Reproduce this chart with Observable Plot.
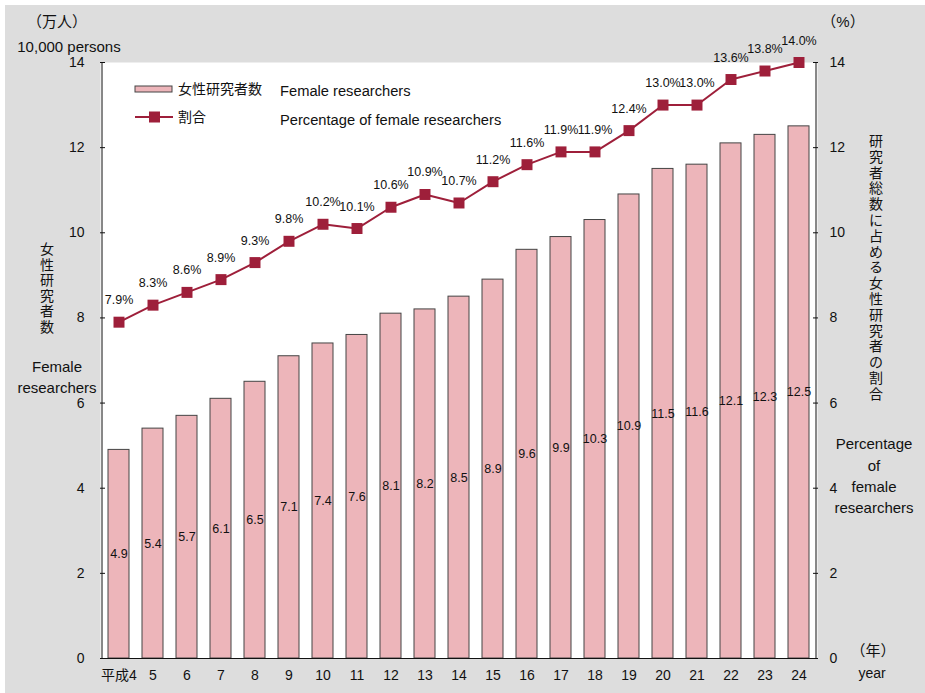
<!DOCTYPE html>
<html>
<head>
<meta charset="utf-8">
<script src="https://cdn.jsdelivr.net/npm/d3@7"></script>
<script src="https://cdn.jsdelivr.net/npm/@observablehq/plot@0.6"></script>
<style>
  html, body { margin: 0; padding: 0; background: #ffffff; }
  svg { display: block; }
</style>
</head>
<body>
<div id="chart"></div>
<script>
const years = ["4","5","6","7","8","9","10","11","12","13","14","15","16","17","18","19","20","21","22","23","24"];
const yearLabels = ["平成4","5","6","7","8","9","10","11","12","13","14","15","16","17","18","19","20","21","22","23","24"];
const researchers = [4.9,5.4,5.7,6.1,6.5,7.1,7.4,7.6,8.1,8.2,8.5,8.9,9.6,9.9,10.3,10.9,11.5,11.6,12.1,12.3,12.5];
const percentage = [7.9,8.3,8.6,8.9,9.3,9.8,10.2,10.1,10.6,10.9,10.7,11.2,11.6,11.9,11.9,12.4,13.0,13.0,13.6,13.8,14.0];
const yTicks = [0,2,4,6,8,10,12,14];

const data = years.map((y, i) => ({year: y, label: yearLabels[i], count: researchers[i], pct: percentage[i]}));

const W = 925, H = 693;
const mL = 100, mR = 108, mT = 62, mB = 35;
const font = "'Liberation Sans', 'Noto Sans CJK JP', sans-serif";
const lineColor = "#9e1f3a";
const barColor = "#edb5ba";

const plot = Plot.plot({
  width: W, height: H,
  marginLeft: mL, marginRight: mR, marginTop: mT, marginBottom: mB,
  style: {fontFamily: font, fontSize: "14px", color: "#111", background: "transparent", overflow: "visible"},
  x: {type: "band", domain: years, paddingInner: 0.37, paddingOuter: 0.185, label: null},
  y: {domain: [0, 14], label: null},
  marks: [
    Plot.frame({fill: "white", stroke: null}),
    Plot.barY(data, {x: "year", y: "count", fill: barColor, stroke: "#444", strokeWidth: 1}),
    Plot.text(data, {x: "year", y: d => d.count / 2, text: d => d.count.toFixed(1), fontSize: 12.5, fill: "#111"}),
    Plot.line(data, {x: "year", y: "pct", stroke: lineColor, strokeWidth: 2}),
    Plot.dot(data, {x: "year", y: "pct", symbol: "square", r: 6.2, fill: lineColor, stroke: null}),
    Plot.text(data, {x: "year", y: "pct", text: d => d.pct.toFixed(1) + "%", dy: -22, fontSize: 12.5, fill: "#111"}),
    Plot.axisY(yTicks, {anchor: "left", tickSize: -5, tickPadding: 21, fontSize: 14, label: null}),
    Plot.axisY(yTicks, {anchor: "right", tickSize: -5, tickPadding: 17, fontSize: 14, label: null}),
    Plot.axisX(years, {anchor: "bottom", tickSize: 0, tickPadding: 12, fontSize: 14, label: null,
      tickFormat: (d) => yearLabels[years.indexOf(d)]}),
    Plot.ruleX([years[0]], {dx: -17, y1: 0, y2: 14, stroke: "#111"}),
    Plot.ruleX([years[years.length - 1]], {dx: 17, y1: 0, y2: 14, stroke: "#111"}),
    Plot.ruleY([0], {stroke: "#111"})
  ]
});

document.getElementById("chart").appendChild(plot);

const svg = d3.select(plot);
svg.insert("rect", ":first-child")
  .attr("x", 5).attr("y", 5).attr("width", W - 5).attr("height", H - 5)
  .attr("fill", "#dddddd");

const g = svg.append("g").attr("font-family", font).attr("fill", "#111");
function txt(x, y, s, size = 14, anchor = "middle") {
  g.append("text").attr("x", x).attr("y", y).attr("text-anchor", anchor)
    .attr("dominant-baseline", "central").attr("font-size", size).text(s);
}
// top-left unit labels
txt(57, 21, "（万人）", 15);
txt(69, 46, "10,000 persons", 15);
// top-right unit
txt(843, 21, "（%）", 15);
// left vertical title
const leftTitle = "女性研究者数";
[...leftTitle].forEach((c, i) => txt(47, 249 + i * 15.6, c, 14));
txt(57, 366, "Female", 15);
txt(57, 387, "researchers", 15);
// right vertical title
const rightTitle = "研究者総数に占める女性研究者の割合";
[...rightTitle].forEach((c, i) => txt(876, 141 + i * 15.8, c, 14));
txt(874, 443, "Percentage", 15);
txt(874, 465, "of", 15);
txt(874, 486, "female", 15);
txt(874, 507, "researchers", 15);
// bottom-right year
txt(873, 650, "（年）", 15);
txt(872, 673, "year", 14);

// legend
const lg = svg.append("g").attr("font-family", font).attr("fill", "#111");
lg.append("rect").attr("x", 135).attr("y", 86).attr("width", 37).attr("height", 6)
  .attr("fill", barColor).attr("stroke", "#444").attr("stroke-width", 1);
lg.append("line").attr("x1", 135).attr("x2", 173).attr("y1", 117).attr("y2", 117)
  .attr("stroke", lineColor).attr("stroke-width", 2);
lg.append("rect").attr("x", 149).attr("y", 111.5).attr("width", 11).attr("height", 11).attr("fill", lineColor);
function ltxt(x, y, s, size) {
  lg.append("text").attr("x", x).attr("y", y).attr("text-anchor", "start")
    .attr("dominant-baseline", "central").attr("font-size", size).text(s);
}
ltxt(178, 89, "女性研究者数", 14);
ltxt(178, 117, "割合", 14);
ltxt(280, 91, "Female researchers", 14.7);
ltxt(280, 120, "Percentage of female researchers", 14.7);
</script>
</body>
</html>
